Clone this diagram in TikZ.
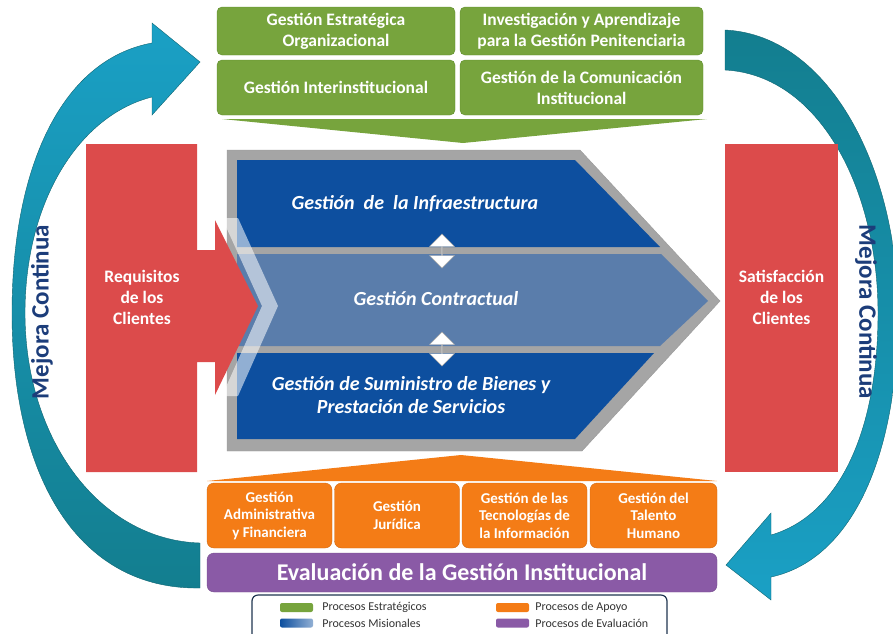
\documentclass[tikz,border=0pt]{standalone}
\usepackage{fontspec}
\setmainfont{Carlito}
\usetikzlibrary{positioning}
\usetikzlibrary{shapes.arrows}

\definecolor{estra}{HTML}{77A43D}
\definecolor{estraborde}{HTML}{5F8C2C}
\definecolor{misi}{HTML}{0D4F9F}
\definecolor{misimedio}{HTML}{5A7DAB}
\definecolor{marco}{HTML}{A5A5A5}
\definecolor{cliente}{HTML}{DC4B4B}
\definecolor{apoyo}{HTML}{F47C16}
\definecolor{evalua}{HTML}{8A5AA6}
\definecolor{mejora}{HTML}{1AA0C5}
\definecolor{mejoraosc}{HTML}{137E8F}
\definecolor{titulo}{HTML}{1C3D7A}
\definecolor{leyborde}{HTML}{1F3550}

\begin{document}
\begin{tikzpicture}[x=1pt,y=-1pt]

\tikzset{estrategico/.style = {rectangle,rounded corners=5pt,fill=estra,draw=estraborde,text=white,align=center,inner sep=0pt,font=\fontsize{17.5}{21}\selectfont\bfseries}}
\tikzset{misional/.style = {text=white,align=center,font=\fontsize{20}{23}\selectfont\bfseries\itshape}}
\tikzset{clientes/.style = {text=white,align=center,font=\fontsize{17.5}{21}\selectfont\bfseries}}
\tikzset{apoyobox/.style = {rectangle,rounded corners=7pt,fill=apoyo,draw=apoyo!85!black,text=white,align=center,inner sep=0pt,minimum width=125pt,minimum height=65pt,font=\fontsize{15}{17.5}\selectfont\bfseries}}
\tikzset{flecha/.style = {double arrow,shape border rotate=90,fill=white,draw=gray!70,inner sep=0pt,minimum height=34pt,minimum width=25pt,double arrow head extend=8pt}}
\tikzset{mejoratxt/.style = {text=titulo,font=\fontsize{25}{28}\selectfont\bfseries}}
\tikzset{muestra/.style = {rectangle,rounded corners=2pt,minimum width=33pt,minimum height=9pt,inner sep=0pt}}
\tikzset{leytxt/.style = {text=black!80,inner sep=0pt,font=\fontsize{12}{14}\selectfont}}

\useasboundingbox (0,0) rectangle (893,633);

%mejora continua
\path[top color=mejora,bottom color=mejoraosc,draw=mejoraosc!80!black,line width=0.4pt]
  (200,62) -- (152,23) -- (152,43) .. controls (60,60) and (12,170) .. (12,313)
  .. controls (12,480) and (80,590) .. (200,588) -- (200,543)
  .. controls (100,540) and (25,440) .. (25,313) .. controls (25,200) and (80,115) .. (152,97)
  -- (152,115) -- cycle;
\path[top color=mejoraosc,bottom color=mejora,draw=mejoraosc!80!black,line width=0.4pt]
  (725,30) .. controls (830,35) and (898,170) .. (898,313)
  .. controls (898,460) and (850,560) .. (771,577) -- (771,600) -- (726,565) -- (771,513) -- (771,535)
  .. controls (840,515) and (878,430) .. (878,313) .. controls (878,190) and (820,75) .. (725,70) -- cycle;
\node[mejoratxt,rotate=90] (mc1) at (42,312) {Mejora Continua};
\node[mejoratxt,rotate=-90] (mc2) at (866,312) {Mejora Continua};

%procesos estrategicos
\node[estrategico,minimum width=238pt,minimum height=48pt] (e1) at (336,31) {Gestión Estratégica\\Organizacional};
\node[estrategico,minimum width=243pt,minimum height=48pt] (e2) at (581.5,31) {Investigación y Aprendizaje\\para la Gestión Penitenciaria};
\node[estrategico,minimum width=238pt,minimum height=55pt] (e3) at (336,87.5) {Gestión Interinstitucional};
\node[estrategico,minimum width=243pt,minimum height=55pt] (e4) at (581.5,87.5) {Gestión de la Comunicación\\Institucional};
\fill[estra] (222,119) -- (707,119) -- (463,143) -- cycle;

%procesos misionales
\filldraw[fill=marco,draw=gray!80] (227,150) -- (580,150) -- (720,301) -- (582,451) -- (227,451) -- cycle;
\fill[misi] (237,160) -- (575,160) -- (660,247) -- (237,247) -- cycle;
\fill[misimedio] (237,254) -- (661,254) -- (708,301) -- (660,346) -- (237,346) -- cycle;
\fill[misi] (237,353) -- (654,353) -- (575,439) -- (237,439) -- cycle;

%requisitos
\fill[cliente] (86,144) -- (197,144) -- (197,250) -- (215,250) -- (215,220) -- (258,306)
  -- (215,395) -- (215,362) -- (197,362) -- (197,472) -- (86,472) -- cycle;
\fill[white,opacity=0.55] (222,218) -- (262,306) -- (222,396) -- (238,396) -- (278,306) -- (238,218) -- cycle;
\node[clientes] (req) at (142,297) {Requisitos\\de los\\Clientes};

%satisfaccion
\fill[cliente] (725,144) rectangle (838,472);
\node[clientes] (sat) at (781.5,297) {Satisfacción\\de los\\Clientes};

%textos misionales
\node[misional] (m1) at (415,204) {Gestión~ de~ la Infraestructura};
\node[misional] (m2) at (436,299) {Gestión Contractual};
\node[misional] (m3) at (411,395) {Gestión de Suministro de Bienes y\\Prestación de Servicios};
\node[flecha] (f1) at (442,251) {};
\node[flecha] (f2) at (442,349) {};

%procesos de apoyo
\fill[apoyo] (207,481) -- (717,481) -- (461,455) -- cycle;
\node[apoyobox] (a1) at (269.5,515.5) {Gestión\\Administrativa\\y Financiera};
\node[apoyobox] (a2) at (397,515.5) {Gestión\\Jurídica};
\node[apoyobox] (a3) at (524.5,515.5) {Gestión de las\\Tecnologías de\\la Información};
\node[apoyobox,minimum width=127pt] (a4) at (653.5,515.5) {Gestión del\\Talento\\Humano};

%evaluacion
\node[rectangle,rounded corners=7pt,fill=evalua,draw=evalua!85!black,text=white,minimum width=510pt,minimum height=39pt,inner sep=0pt,font=\fontsize{24}{28}\selectfont\bfseries] (ev) at (462,572.5) {Evaluación de la Gestión Institucional};

%leyenda
\node[draw=leyborde,fill=white,rounded corners=6pt,line width=1.2pt,minimum width=415pt,minimum height=50pt] (ley) at (459.5,620) {};
\node[muestra,fill=estra] (s1) at (296.5,607.5) {};
\node[muestra,left color=misi,right color=misi!45!white] (s2) at (296.5,623) {};
\node[muestra,fill=apoyo] (s3) at (512.5,607.5) {};
\node[muestra,fill=evalua] (s4) at (512.5,623) {};
\node[leytxt,right=9pt of s1] (l1) {Procesos Estratégicos};
\node[leytxt,right=9pt of s2] (l2) {Procesos Misionales};
\node[leytxt,right=6pt of s3] (l3) {Procesos de Apoyo};
\node[leytxt,right=6pt of s4] (l4) {Procesos de Evaluación};

\end{tikzpicture}
\end{document}
